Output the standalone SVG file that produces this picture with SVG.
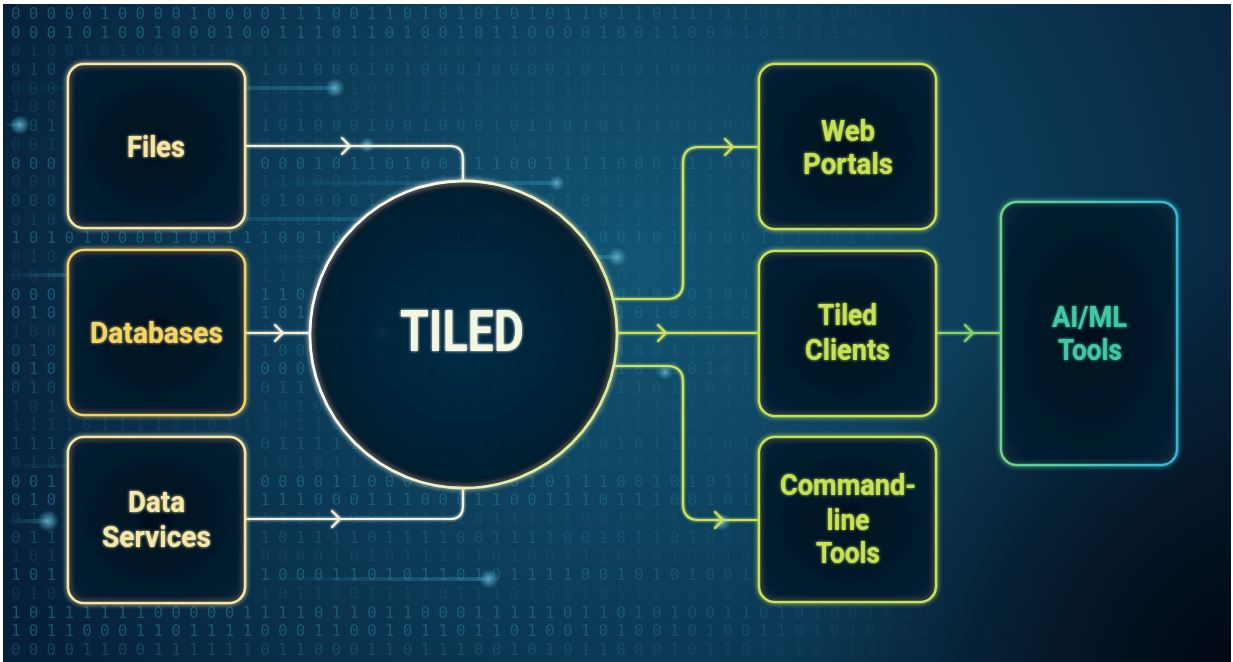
<svg xmlns="http://www.w3.org/2000/svg" width="1233" height="662" viewBox="0 0 1233 662">
<style>
.bin{font-family:"DejaVu Sans Mono","Liberation Mono",monospace;font-size:16px;letter-spacing:8.17px;fill:#2d86a2}
.d1{opacity:.5}.d2{opacity:.34}.d3{opacity:.2}
.lbl{font-family:Roboto,"Liberation Sans",sans-serif;font-weight:bold;font-size:29px;text-anchor:middle}
.big{font-size:57px}
.box{stroke-width:2.6;fill:url(#boxFill)}
.conn{fill:none;stroke-width:2.2;stroke-linecap:round;stroke-linejoin:round}
.gline{stroke-width:3;opacity:.5}
</style>
<defs>
<radialGradient id="bgGlow" cx="640" cy="260" r="700" gradientUnits="userSpaceOnUse">
<stop offset="0" stop-color="#125573"/>
<stop offset="0.55" stop-color="#0c3a56"/>
<stop offset="1" stop-color="#06203a"/>
</radialGradient>
<radialGradient id="bgDark" cx="1233" cy="662" r="420" gradientUnits="userSpaceOnUse">
<stop offset="0" stop-color="#010812" stop-opacity="0.95"/>
<stop offset="1" stop-color="#010812" stop-opacity="0"/>
</radialGradient>
<radialGradient id="boxFill" cx="0.5" cy="0.5" r="0.7">
<stop offset="0" stop-color="#03101d" stop-opacity="0.9"/>
<stop offset="1" stop-color="#082236" stop-opacity="0.85"/>
</radialGradient>
<radialGradient id="circFill" cx="0.5" cy="0.5" r="0.5">
<stop offset="0" stop-color="#0a2a44" stop-opacity="0.6"/>
<stop offset="1" stop-color="#061a2c" stop-opacity="0.8"/>
</radialGradient>
<linearGradient id="circStroke" x1="0" y1="0" x2="1" y2="0.3">
<stop offset="0" stop-color="#ffffff"/>
<stop offset="0.5" stop-color="#f4f4d8"/>
<stop offset="1" stop-color="#dde99a"/>
</linearGradient>
<linearGradient id="aiStroke" x1="0" y1="0" x2="1" y2="0">
<stop offset="0" stop-color="#6cd48c"/>
<stop offset="1" stop-color="#2fbad6"/>
</linearGradient>
<linearGradient id="binFade" x1="0" y1="0" x2="1233" y2="0" gradientUnits="userSpaceOnUse">
<stop offset="0" stop-color="#fff"/>
<stop offset="0.45" stop-color="#fff" stop-opacity="0.85"/>
<stop offset="0.8" stop-color="#fff" stop-opacity="0"/>
</linearGradient>
<mask id="binMask"><rect x="0" y="0" width="1233" height="662" fill="url(#binFade)"/></mask>
<linearGradient id="glowLine" x1="0" y1="0" x2="1" y2="0">
<stop offset="0" stop-color="#3aa6c6" stop-opacity="0"/>
<stop offset="1" stop-color="#3aa6c6" stop-opacity="0.7"/>
</linearGradient>
<radialGradient id="dot">
<stop offset="0" stop-color="#6fb8d0" stop-opacity="0.85"/>
<stop offset="0.55" stop-color="#4a9ab8" stop-opacity="0.5"/>
<stop offset="1" stop-color="#3a8fb0" stop-opacity="0"/>
</radialGradient>
<filter id="glow" x="-20%" y="-20%" width="140%" height="140%">
<feGaussianBlur in="SourceGraphic" stdDeviation="2.5" result="b"/>
<feMerge><feMergeNode in="b"/><feMergeNode in="SourceGraphic"/></feMerge>
</filter>
<filter id="tglow" x="-20%" y="-40%" width="140%" height="180%">
<feGaussianBlur in="SourceGraphic" stdDeviation="1.5" result="b"/>
<feMerge><feMergeNode in="b"/><feMergeNode in="SourceGraphic"/></feMerge>
</filter>
<path id="chev" d="M-8,-8 L0,0 L-8,8" fill="none" stroke-width="2.2" stroke-linecap="round" stroke-linejoin="round"/>
</defs>

<rect x="0" y="0" width="1233" height="662" fill="#ffffff"/>
<rect x="3" y="4" width="1228" height="658" fill="url(#bgGlow)"/>
<rect x="3" y="4" width="1228" height="658" fill="url(#bgDark)"/>

<g id="binary" class="bin" mask="url(#binMask)">
<text x="11" y="19" class="d1">00000100001000011100110101010101101101111100100011010110</text>
<text x="11" y="38" class="d1">00010100100010011101101001011000010011000101101001110010</text>
<text x="11" y="56" class="d3">01001010011100100101100100001011000100101001110101000111</text>
<text x="11" y="75" class="d2">010</text><text x="260.2" y="75" class="d2">1010001010001000010110100010</text>
<text x="11" y="94" class="d3">000</text><text x="260.2" y="94" class="d3">0010110000100111010100101101</text>
<text x="11" y="112" class="d3">100</text><text x="260.2" y="112" class="d3">1010001110110001001000100111</text>
<text x="11" y="131" class="d2">001</text><text x="260.2" y="131" class="d2">1010001001000101101011100100</text>
<text x="11" y="150" class="d3">001</text><text x="260.2" y="150" class="d3">0100010110101110000101000100</text>
<text x="11" y="169" class="d1">000</text><text x="260.2" y="169" class="d1">0001011010011100111100011100</text>
<text x="11" y="187" class="d3">000</text><text x="260.2" y="187" class="d3">1100010011101001011000110110</text>
<text x="11" y="206" class="d2">000</text><text x="260.2" y="206" class="d2">0100001100100111010010001101</text>
<text x="11" y="225" class="d3">010</text><text x="260.2" y="225" class="d3">1001010100111000011011000110</text>
<text x="11" y="243" class="d1">10101000010011100101000110101100100101010011110100100101</text>
<text x="11" y="262" class="d3">010</text><text x="260.2" y="262" class="d3">1011100101001110001010101001</text>
<text x="11" y="281" class="d3">000</text><text x="260.2" y="281" class="d3">1100101101011101100101100100</text>
<text x="11" y="300" class="d1">000</text><text x="260.2" y="300" class="d1">1101101001100011101001010101</text>
<text x="11" y="318" class="d1">010</text><text x="260.2" y="318" class="d1">10110100</text><text x="562.8" y="318" class="d1">01010100100</text>
<text x="11" y="337" class="d3">100</text><text x="260.2" y="337" class="d3">10011011</text><text x="562.8" y="337" class="d3">10011101001</text>
<text x="11" y="356" class="d2">010</text><text x="260.2" y="356" class="d2">10001101</text><text x="562.8" y="356" class="d2">01010011001</text>
<text x="11" y="374" class="d1">010</text><text x="260.2" y="374" class="d1">0001001001001111001010110101</text>
<text x="11" y="393" class="d2">010</text><text x="260.2" y="393" class="d2">0110110101001011100011010010</text>
<text x="11" y="412" class="d3">101</text><text x="260.2" y="412" class="d3">1010000111010110001111101110</text>
<text x="11" y="430" class="d3">11110111101011001100101011100011111110001011000010111001</text>
<text x="11" y="449" class="d2">111</text><text x="260.2" y="449" class="d2">0111111011000101110010110101</text>
<text x="11" y="468" class="d3">010</text><text x="260.2" y="468" class="d3">1010111010010001011010101101</text>
<text x="11" y="487" class="d1">001</text><text x="260.2" y="487" class="d1">0000110000110001011100101011</text>
<text x="11" y="505" class="d1">010</text><text x="260.2" y="505" class="d1">1110001110001100111011100101</text>
<text x="11" y="524" class="d3">011</text><text x="260.2" y="524" class="d3">1111100111110111110010110010</text>
<text x="11" y="543" class="d2">011</text><text x="260.2" y="543" class="d2">1011110111100111100101101001</text>
<text x="11" y="561" class="d3">101</text><text x="260.2" y="561" class="d3">0000101011101010011101010010</text>
<text x="11" y="580" class="d1">101</text><text x="260.2" y="580" class="d1">1000110101101011110010101001</text>
<text x="11" y="599" class="d3">010</text><text x="260.2" y="599" class="d3">1011001111011101001011000101</text>
<text x="11" y="618" class="d1">10111111000001111011011000111110110101001101010010101010</text>
<text x="11" y="636" class="d1">10110001101111000110010110110100101001010011010100101010</text>
<text x="11" y="655" class="d2">00001100111111011000110111001010110001011010100110101001</text>
</g>

<g id="glows">
<rect x="3" y="86" width="332" height="4" fill="url(#glowLine)" class="gline"/>
<circle cx="335" cy="88" r="10" fill="url(#dot)"/>
<rect x="3" y="123" width="17" height="4" fill="url(#glowLine)" class="gline"/>
<circle cx="20" cy="125" r="10" fill="url(#dot)"/>
<circle cx="367" cy="145" r="8" fill="url(#dot)"/>
<rect x="250" y="181" width="307" height="4" fill="url(#glowLine)" class="gline"/>
<circle cx="557" cy="183" r="8" fill="url(#dot)"/>
<rect x="3" y="217" width="497" height="4" fill="url(#glowLine)" class="gline"/>
<circle cx="500" cy="219" r="11" fill="url(#dot)"/>
<rect x="250" y="255" width="367" height="4" fill="url(#glowLine)" class="gline"/>
<circle cx="617" cy="257" r="10" fill="url(#dot)"/>
<rect x="3" y="273" width="77" height="4" fill="url(#glowLine)" class="gline"/>
<circle cx="80" cy="275" r="9" fill="url(#dot)"/>
<rect x="250" y="331" width="132" height="4" fill="url(#glowLine)" class="gline"/>
<circle cx="382" cy="333" r="10" fill="url(#dot)"/>
<circle cx="665" cy="372" r="8" fill="url(#dot)"/>
<rect x="3" y="464" width="182" height="4" fill="url(#glowLine)" class="gline"/>
<circle cx="185" cy="466" r="8" fill="url(#dot)"/>
<rect x="3" y="519" width="45" height="4" fill="url(#glowLine)" class="gline"/>
<circle cx="48" cy="521" r="11" fill="url(#dot)"/>
<circle cx="722" cy="522" r="9" fill="url(#dot)"/>
<rect x="250" y="577" width="239" height="4" fill="url(#glowLine)" class="gline"/>
<circle cx="489" cy="579" r="10" fill="url(#dot)"/>
</g>

<g id="connectors" filter="url(#tglow)">
<path class="conn" stroke="#f4f0dc" d="M245,146 H450 Q463,146 463,159 V181"/>
<path class="conn" stroke="#f4f0dc" d="M245,333 H310"/>
<path class="conn" stroke="#f4f0dc" d="M245,519 H450 Q463,519 463,506 V488"/>
<path class="conn" stroke="#cde35c" d="M613,299 H667 Q683,299 683,283 V163 Q683,147 699,147 H759"/>
<path class="conn" stroke="#cde35c" d="M617,333 H759"/>
<path class="conn" stroke="#cde35c" d="M614,366 H667 Q683,366 683,382 V504 Q683,520 699,520 H759"/>
<path class="conn" stroke="#86d36e" d="M936,333 H1001"/>
<use href="#chev" x="350" y="146" stroke="#f4f0dc"/>
<use href="#chev" x="283" y="333" stroke="#f4f0dc"/>
<use href="#chev" x="340" y="519" stroke="#f4f0dc"/>
<use href="#chev" x="733" y="147" stroke="#cde35c"/>
<use href="#chev" x="666" y="333" stroke="#cde35c"/>
<use href="#chev" x="723" y="520" stroke="#cde35c"/>
<use href="#chev" x="973" y="333" stroke="#86d36e"/>
</g>

<g id="files">
<rect class="box" x="68" y="64" width="177" height="164" rx="16" stroke="#f6e7a6" filter="url(#glow)"/>
<text class="lbl" x="156" y="157" fill="#f7e6a2" textLength="58" lengthAdjust="spacingAndGlyphs" filter="url(#tglow)">Files</text>
</g>
<g id="databases">
<rect class="box" x="68" y="250" width="177" height="165" rx="16" stroke="#f2d266" filter="url(#glow)"/>
<text class="lbl" x="156.5" y="343" fill="#f4d466" textLength="133" lengthAdjust="spacingAndGlyphs" filter="url(#tglow)">Databases</text>
</g>
<g id="data-services">
<rect class="box" x="68" y="437" width="177" height="166" rx="16" stroke="#f6e7a6" filter="url(#glow)"/>
<text class="lbl" x="156.5" y="512" fill="#f8e8a8" textLength="57" lengthAdjust="spacingAndGlyphs" filter="url(#tglow)">Data</text>
<text class="lbl" x="156.5" y="547" fill="#f8e8a8" textLength="109" lengthAdjust="spacingAndGlyphs" filter="url(#tglow)">Services</text>
</g>

<g id="tiled">
<circle cx="463.5" cy="334.5" r="153.5" fill="url(#circFill)" stroke="url(#circStroke)" stroke-width="2.8" filter="url(#glow)"/>
<text class="lbl big" x="462" y="351" fill="#f3f6e0" textLength="124" lengthAdjust="spacingAndGlyphs" filter="url(#tglow)">TILED</text>
</g>

<g id="web-portals">
<rect class="box" x="759" y="64" width="177" height="165" rx="16" stroke="#c6e258" filter="url(#glow)"/>
<text class="lbl" x="848" y="141" fill="#c8e254" textLength="54" lengthAdjust="spacingAndGlyphs" filter="url(#tglow)">Web</text>
<text class="lbl" x="848" y="174" fill="#c8e254" textLength="90" lengthAdjust="spacingAndGlyphs" filter="url(#tglow)">Portals</text>
</g>
<g id="tiled-clients">
<rect class="box" x="759" y="251" width="177" height="165" rx="16" stroke="#c6e258" filter="url(#glow)"/>
<text class="lbl" x="847.5" y="325" fill="#c8e254" textLength="59" lengthAdjust="spacingAndGlyphs" filter="url(#tglow)">Tiled</text>
<text class="lbl" x="847.5" y="360" fill="#c8e254" textLength="85" lengthAdjust="spacingAndGlyphs" filter="url(#tglow)">Clients</text>
</g>
<g id="command-line-tools">
<rect class="box" x="759" y="437" width="177" height="165" rx="16" stroke="#c6e258" filter="url(#glow)"/>
<text class="lbl" x="848" y="495" fill="#c8e254" textLength="136" lengthAdjust="spacingAndGlyphs" filter="url(#tglow)">Command-</text>
<text class="lbl" x="848" y="530" fill="#c8e254" textLength="43" lengthAdjust="spacingAndGlyphs" filter="url(#tglow)">line</text>
<text class="lbl" x="848" y="563" fill="#c8e254" textLength="64" lengthAdjust="spacingAndGlyphs" filter="url(#tglow)">Tools</text>
</g>
<g id="ai-ml-tools">
<rect class="box" x="1001" y="202" width="176" height="263" rx="16" stroke="url(#aiStroke)" filter="url(#glow)"/>
<text class="lbl" x="1089.5" y="327" fill="#42c8a2" textLength="75" lengthAdjust="spacingAndGlyphs" filter="url(#tglow)">AI/ML</text>
<text class="lbl" x="1090" y="360" fill="#42c8a2" textLength="64" lengthAdjust="spacingAndGlyphs" filter="url(#tglow)">Tools</text>
</g>
</svg>
